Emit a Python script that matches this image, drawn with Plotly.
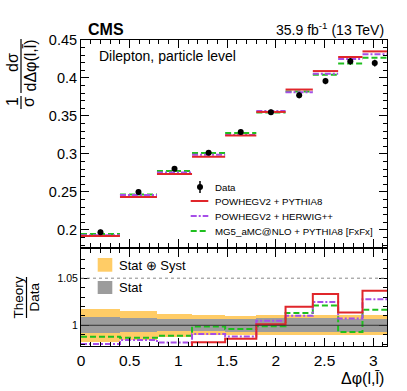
import math
import plotly.graph_objects as go

# ---------------- data ----------------
bin_edges = [0.0, 0.4, 0.78, 1.14, 1.48, 1.8, 2.1, 2.38, 2.64, 2.89, math.pi]
data_vals = [0.197, 0.2498, 0.2806, 0.3017, 0.329, 0.3549, 0.3774, 0.3959, 0.4219, 0.4196]
powheg_pythia8 = [0.1921, 0.2433, 0.2736, 0.2963, 0.3243, 0.3553, 0.3848, 0.4091, 0.4276, 0.4350]
powheg_herwig = [0.1931, 0.2459, 0.2755, 0.2989, 0.3251, 0.3566, 0.3812, 0.4057, 0.4249, 0.4312]
mg5_pythia8 = [0.1946, 0.2465, 0.2775, 0.3013, 0.3277, 0.3545, 0.3823, 0.4042, 0.4189, 0.4265]
rel_tot_unc = [0.0174, 0.0153, 0.0122, 0.0108, 0.0100, 0.0104, 0.0105, 0.0105, 0.0105, 0.0108]
rel_stat_unc = [0.0083, 0.0076, 0.0064, 0.0062, 0.0068, 0.0075, 0.0075, 0.0075, 0.0072, 0.0072]

labels = ["Data", "POWHEGV2 + PYTHIA8", "POWHEGV2 + HERWIG++", "MG5_aMC@NLO + PYTHIA8 [FxFx]"]
x_ticks_ratio = [0, 0.5, 1, 1.5, 2, 2.5, 3]

# ---------------- styling ----------------
FONT = "Liberation Sans, Arial, Helvetica, sans-serif"
C_RED = "#e0262b"
C_PUR = "#a64ee8"
C_GRN = "#1fbf1f"
C_ORANGE = "#ffcc66"
C_GRAY = "#9c9c9c"
DASH_GRN = "6px,3px"
DASH_PUR = "6px,2px,2px,2px"

centers = [(a + b) / 2 for a, b in zip(bin_edges[:-1], bin_edges[1:])]
widths = [b - a for a, b in zip(bin_edges[:-1], bin_edges[1:])]


def segments(vals):
    xs, ys = [], []
    for a, b, v in zip(bin_edges[:-1], bin_edges[1:], vals):
        xs += [a, b, None]
        ys += [v, v, None]
    return xs, ys


def ratio(vals):
    return [t / d for t, d in zip(vals, data_vals)]


fig = go.Figure()

# ---- top panel ----
for vals, col, dash in [(mg5_pythia8, C_GRN, DASH_GRN),
                        (powheg_herwig, C_PUR, DASH_PUR),
                        (powheg_pythia8, C_RED, "solid")]:
    xs, ys = segments(vals)
    fig.add_trace(go.Scatter(x=xs, y=ys, mode="lines", xaxis="x", yaxis="y",
                             line=dict(color=col, width=2, dash=dash),
                             showlegend=False, hoverinfo="skip"))

fig.add_trace(go.Scatter(
    x=centers, y=data_vals, mode="markers", xaxis="x", yaxis="y",
    marker=dict(color="black", size=6, symbol="circle"),
    error_y=dict(type="data", array=[d * e for d, e in zip(data_vals, rel_tot_unc)],
                 color="black", thickness=1.5, width=0),
    showlegend=False))

# ---- ratio panel ----
fig.add_trace(go.Bar(x=centers, y=[2 * e for e in rel_tot_unc], base=[1 - e for e in rel_tot_unc],
                     width=widths, xaxis="x2", yaxis="y2",
                     marker=dict(color=C_ORANGE, line=dict(width=0)), showlegend=False))
fig.add_trace(go.Bar(x=centers, y=[2 * e for e in rel_stat_unc], base=[1 - e for e in rel_stat_unc],
                     width=widths, xaxis="x2", yaxis="y2",
                     marker=dict(color=C_GRAY, line=dict(width=0)), showlegend=False))

for vals, col, dash in [(mg5_pythia8, C_GRN, DASH_GRN),
                        (powheg_herwig, C_PUR, DASH_PUR),
                        (powheg_pythia8, C_RED, "solid")]:
    r = ratio(vals)
    fig.add_trace(go.Scatter(x=bin_edges, y=r + [r[-1]], mode="lines", line_shape="hv",
                             xaxis="x2", yaxis="y2",
                             line=dict(color=col, width=2, dash=dash),
                             showlegend=False, hoverinfo="skip"))

# ---------------- layout ----------------
W, H = 407, 391
PLOT_L, PLOT_R, PLOT_T, PLOT_B = 81, 387, 40, 346   # pixels of the plot area
ML, MT = PLOT_L, PLOT_T
MR, MB = W - PLOT_R, H - PLOT_B
PW, PH = PLOT_R - PLOT_L, PLOT_B - PLOT_T


def px(x):
    return (x - PLOT_L) / PW


def py(y):
    return (PLOT_B - y) / PH


axis_common = dict(showline=True, linecolor="black", linewidth=1, mirror="allticks",
                   ticks="inside", ticklen=8, tickwidth=1, tickcolor="black",
                   showgrid=False, zeroline=False)

fig.update_layout(
    width=W, height=H,
    margin=dict(l=ML, r=MR, t=MT, b=MB),
    paper_bgcolor="white", plot_bgcolor="white",
    font=dict(family=FONT, color="black"),
    barmode="overlay", bargap=0,
    showlegend=False,
    xaxis=dict(domain=[0, 1], anchor="y", range=[0, math.pi], tick0=0, dtick=0.5,
               showticklabels=False,
               minor=dict(ticks="inside", dtick=0.1, ticklen=4, tickcolor="black"),
               **axis_common),
    yaxis=dict(domain=[py(247), 1], anchor="x", range=[0.1775, 0.45], tick0=0, dtick=0.05,
               tickfont=dict(size=14.5),
               minor=dict(ticks="inside", dtick=0.01, ticklen=4, tickcolor="black"),
               **axis_common),
    xaxis2=dict(domain=[0, 1], anchor="y2", range=[0, math.pi], tickvals=x_ticks_ratio,
                ticktext=[str(v) for v in x_ticks_ratio],
                tickfont=dict(size=15.5),
                minor=dict(ticks="inside", dtick=0.1, ticklen=4, tickcolor="black"),
                **axis_common),
    yaxis2=dict(domain=[0, py(249)], anchor="x2", range=[0.978, 1.081], tick0=1, dtick=0.05,
                tickfont=dict(size=10.5),
                minor=dict(ticks="inside", dtick=0.01, ticklen=4, tickcolor="black"),
                **axis_common),
)

shapes = []
annotations = []

# reference lines in ratio panel
shapes.append(dict(type="line", xref="x2 domain", yref="y2", x0=0, x1=1, y0=1, y1=1,
                   line=dict(color="#333333", width=1)))
shapes.append(dict(type="line", xref="x2 domain", yref="y2", x0=0, x1=1, y0=1.05, y1=1.05,
                   line=dict(color="#888888", width=1, dash="dot")))


def ann(text, x, y, size, xanchor="center", yanchor="middle", angle=0, bold=False):
    if bold:
        text = "<b>" + text + "</b>"
    annotations.append(dict(text=text, x=px(x), y=py(y), xref="paper", yref="paper",
                            xanchor=xanchor, yanchor=yanchor, showarrow=False,
                            textangle=angle, font=dict(size=size, family=FONT, color="black")))


# header
ann("CMS", 86, 30, 16, xanchor="left", bold=True)
ann("35.9 fb<sup>-1</sup> (13 TeV)", 386, 29, 14, xanchor="right")
ann("Dilepton, particle level", 97, 56, 14, xanchor="left")

# y title (top) : 1/sigma  dsigma / dDeltaphi
ann("dσ", 13, 63, 16, angle=-90)
ann("dΔφ(l,l\u0304)", 29.5, 65, 16, angle=-90)
shapes.append(dict(type="line", xref="paper", yref="paper", x0=px(21), x1=px(21),
                   y0=py(39), y1=py(93), line=dict(color="black", width=1.2)))
ann("1", 13, 102, 16, angle=-90)
ann("σ", 29, 102, 16, angle=-90)
shapes.append(dict(type="line", xref="paper", yref="paper", x0=px(21), x1=px(21),
                   y0=py(96), y1=py(109), line=dict(color="black", width=1.2)))

# y title (ratio)
ann("Theory", 18, 297.5, 13.5, angle=-90)
ann("Data", 34, 297.5, 13.5, angle=-90)
shapes.append(dict(type="line", xref="paper", yref="paper", x0=px(26.5), x1=px(26.5),
                   y0=py(277), y1=py(318), line=dict(color="black", width=1.2)))

# x title
ann("Δφ(l,l\u0304)", 386, 378, 16, xanchor="right")

# top legend
leg_x0, leg_x1, leg_tx = 190.7, 208.3, 212.7
leg_rows = [187, 201, 216, 231]
shapes.append(dict(type="circle", xref="paper", yref="paper",
                   x0=px(197), x1=px(203), y0=py(184), y1=py(190),
                   fillcolor="black", line=dict(color="black", width=0)))
shapes.append(dict(type="line", xref="paper", yref="paper", x0=px(200), x1=px(200),
                   y0=py(181), y1=py(193), line=dict(color="black", width=1.5)))
for row, col, dash in zip(leg_rows[1:], [C_RED, C_PUR, C_GRN], ["solid", DASH_PUR, DASH_GRN]):
    shapes.append(dict(type="line", xref="paper", yref="paper", x0=px(leg_x0), x1=px(leg_x1),
                       y0=py(row), y1=py(row), line=dict(color=col, width=2, dash=dash)))
for row, lab in zip(leg_rows, labels):
    ann(lab, leg_tx, row, 9.7, xanchor="left")

# ratio legend
shapes.append(dict(type="rect", xref="paper", yref="paper", x0=px(97.7), x1=px(112.3),
                   y0=py(271.7), y1=py(258), fillcolor=C_ORANGE, line=dict(width=0)))
shapes.append(dict(type="rect", xref="paper", yref="paper", x0=px(97.7), x1=px(112.3),
                   y0=py(294), y1=py(281), fillcolor=C_GRAY, line=dict(width=0)))
ann("Stat ⊕ Syst", 116.7, 265, 13, xanchor="left")
ann("Stat", 116.7, 287.5, 13, xanchor="left")

fig.update_layout(shapes=shapes, annotations=annotations)

# remove the default 8px page margin so the figure fills the window exactly
fig.write_html("out.html", config={"displayModeBar": False},
               post_script="document.body.style.margin='0px';document.body.style.overflow='hidden';")
